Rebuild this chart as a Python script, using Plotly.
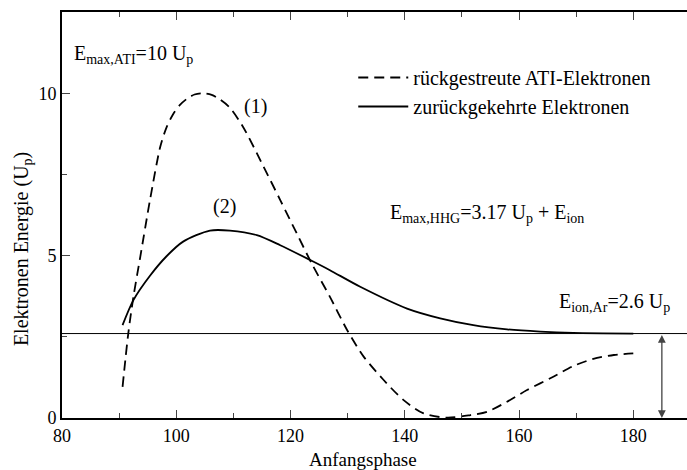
import plotly.graph_objects as go

# Data
phase_ati = [90.6, 91.6, 92.5, 93.7, 95.4, 97.2, 98.3, 99.5, 100.6, 101.8, 103.2, 104.7, 106.2,
             107.7, 109.4, 111.7, 115.3, 118.2, 121.1, 123.7, 126.9, 129.9, 132.8, 136.3,
             139.8, 143.3, 147.4, 151.5, 154.4, 157.9, 161.4, 166.0, 169.5, 173.0, 176.6, 180.0]
energy_ati = [0.96, 2.6, 3.73, 4.96, 6.71, 8.35, 8.95, 9.37, 9.63, 9.82, 9.96, 10.0, 9.95,
              9.8, 9.55, 8.96, 7.73, 6.71, 5.68, 4.76, 3.73, 2.71, 1.89, 1.17,
              0.55, 0.14, 0.01, 0.09, 0.19, 0.50, 0.86, 1.27, 1.60, 1.82, 1.94, 1.99]

phase_ret = [90.6, 92.5, 95.4, 98.3, 101.2, 105.9, 109.4, 114.1, 118.2, 123.7, 126.9, 132.2,
             140.4, 146.2, 152.0, 157.9, 163.7, 169.5, 180.0]
energy_ret = [2.86, 3.63, 4.38, 4.98, 5.43, 5.77, 5.77, 5.63, 5.32, 4.84, 4.55, 4.04,
              3.37, 3.07, 2.86, 2.73, 2.66, 2.62, 2.60]

e_ion_ar = 2.6
arrow_phase = 185
x_range = [80, 189.4]
y_range = [0, 12.5]
x_ticks = [80, 100, 120, 140, 160, 180]
y_ticks = [0, 5, 10]

FONT = "Liberation Serif, Times New Roman, DejaVu Serif, serif"

fig = go.Figure()
fig.add_trace(go.Scatter(x=phase_ati, y=energy_ati, mode="lines", line_shape="spline",
                         name="rückgestreute ATI-Elektronen",
                         line=dict(color="black", width=1.8, dash="10px,6px", smoothing=0.8)))
fig.add_trace(go.Scatter(x=phase_ret, y=energy_ret, mode="lines", line_shape="spline",
                         name="zurückgekehrte Elektronen",
                         line=dict(color="black", width=1.8, smoothing=0.8)))

# Horizontal ionisation-energy line
fig.add_shape(type="line", xref="paper", yref="y", x0=0, x1=1, y0=e_ion_ar, y1=e_ion_ar,
              line=dict(color="black", width=1))

# Double arrow
fig.add_annotation(x=arrow_phase, y=0, ax=arrow_phase, ay=e_ion_ar, xref="x", yref="y",
                   axref="x", ayref="y", text="", showarrow=True, arrowhead=2,
                   arrowside="end+start", arrowsize=1.2, arrowwidth=1.3, arrowcolor="#444")

ann_font = dict(family=FONT, size=20, color="black")
fig.add_annotation(x=81.8, y=11.2, xref="x", yref="y", xanchor="left", yanchor="middle",
                   text="E<sub>max,ATI</sub>=10 U<sub>p</sub>", showarrow=False, font=ann_font)
fig.add_annotation(x=113.9, y=9.6, xref="x", yref="y", text="(1)", showarrow=False, font=ann_font)
fig.add_annotation(x=108.4, y=6.5, xref="x", yref="y", text="(2)", showarrow=False, font=ann_font)
fig.add_annotation(x=137.0, y=6.3, xref="x", yref="y", xanchor="left", yanchor="middle",
                   text="E<sub>max,HHG</sub>=3.17 U<sub>p</sub> + E<sub>ion</sub>",
                   showarrow=False, font=ann_font)
fig.add_annotation(x=166.6, y=3.55, xref="x", yref="y", xanchor="left", yanchor="middle",
                   text="E<sub>ion,Ar</sub>=2.6 U<sub>p</sub>", showarrow=False, font=ann_font)

# Axis titles
fig.add_annotation(x=0.4816, y=-0.103, xref="paper", yref="paper", xanchor="center", yanchor="middle",
                   text="Anfangsphase", showarrow=False,
                   font=dict(family=FONT, size=19, color="black"))
fig.add_annotation(x=-0.064, y=5.2, xref="paper", yref="y", xanchor="center", yanchor="middle",
                   text="Elektronen Energie (U<sub>p</sub>)", showarrow=False, textangle=-90,
                   font=dict(family=FONT, size=20, color="black"))

fig.update_layout(
    width=687, height=470,
    margin=dict(l=62, r=0, t=12, b=52),
    plot_bgcolor="white", paper_bgcolor="white",
    font=dict(family=FONT, size=18, color="black"),
    showlegend=True,
    legend=dict(x=0.466, y=0.803, xanchor="left", yanchor="middle", bgcolor="rgba(0,0,0,0)",
                font=dict(family=FONT, size=20, color="black"), tracegroupgap=0,
                itemwidth=50),
    xaxis=dict(range=x_range, tickvals=x_ticks, ticks="inside", ticklen=8, tickwidth=1.3,
               showline=True, linecolor="black", linewidth=2, mirror="ticks",
               showgrid=False, zeroline=False,
               minor=dict(dtick=10, tick0=80, ticks="inside", ticklen=5, tickwidth=1.3, showgrid=False),
               tickfont=dict(family=FONT, size=18)),
    yaxis=dict(range=y_range, tickvals=y_ticks, ticks="inside", ticklen=8, tickwidth=1.3,
               showline=True, linecolor="black", linewidth=2, mirror=False,
               showgrid=False, zeroline=False,
               minor=dict(dtick=2.5, tick0=0, ticks="inside", ticklen=5, tickwidth=1.3, showgrid=False),
               tickfont=dict(family=FONT, size=18)),
)

fig.write_html("out.html")
